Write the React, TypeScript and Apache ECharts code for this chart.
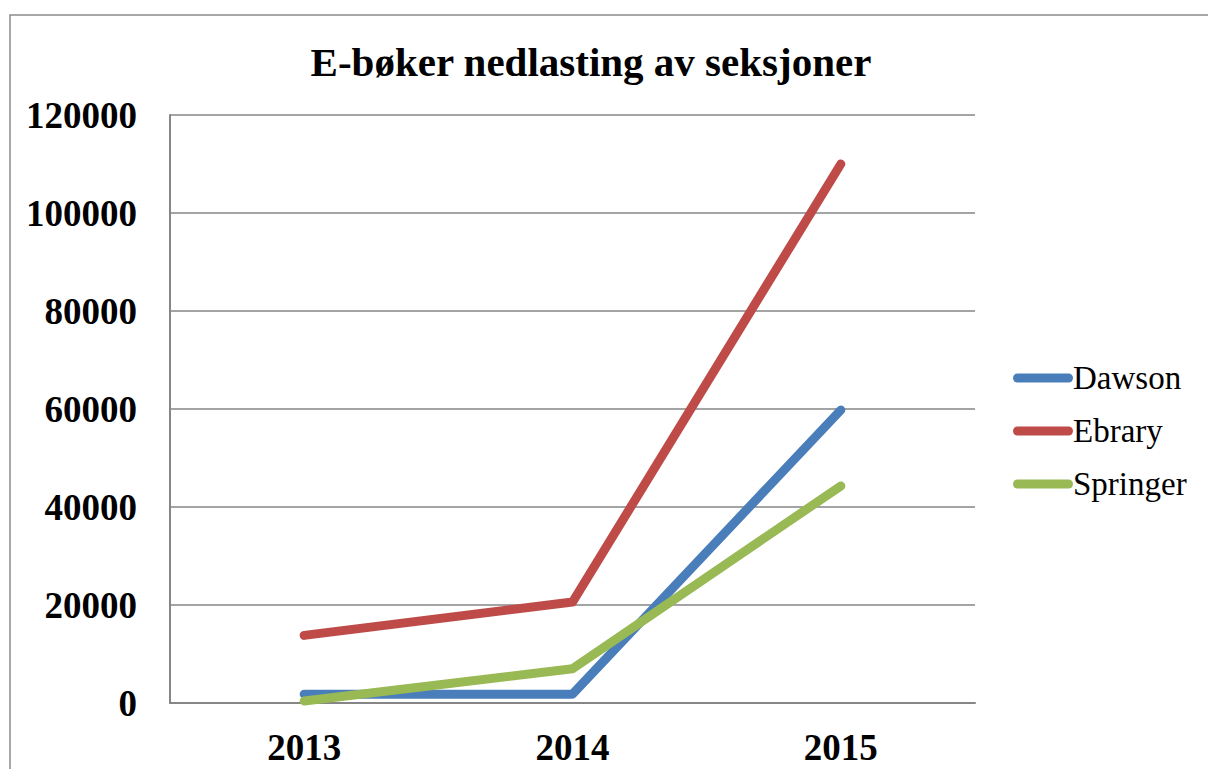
import React, { useEffect, useRef } from "react";
import * as echarts from "echarts";

const categories = ["2013", "2014", "2015"];
const dawson = [1800, 1800, 59800];
const ebrary = [13800, 20600, 110000];
const springer = [400, 7000, 44300];
const seriesNames = ["Dawson", "Ebrary", "Springer"];
const colors = ["#4A7EBB", "#BE4B48", "#98B954"];

export default function App() {
  const ref = useRef<HTMLDivElement>(null);
  useEffect(() => {
    if (!ref.current) return;
    const chart = echarts.init(ref.current, null, { renderer: "svg" });
    const data = [dawson, ebrary, springer];
    chart.setOption({
      animation: false,
      backgroundColor: "#ffffff",
      title: {
        text: "E-bøker nedlasting av seksjoner",
        left: 586,
        textAlign: "center",
        top: 36,
        textStyle: {
          fontFamily: "Liberation Serif",
          fontWeight: "bold",
          fontSize: 41,
          color: "#000",
        },
      },
      graphic: [
        {
          type: "rect",
          shape: { x: 10, y: 15, width: 1300, height: 900 },
          style: { fill: "none", stroke: "#8c8c8c", lineWidth: 1.5 },
          silent: true,
        },
      ],
      legend: {
        orient: "vertical",
        left: 1013,
        top: 360,
        padding: 0,
        itemWidth: 60,
        itemHeight: 9,
        itemGap: 17,
        icon: "path://M4.5,0 H55.5 A4.5,4.5 0 0 1 55.5,9 H4.5 A4.5,4.5 0 0 1 4.5,0 Z",
        data: seriesNames,
        textStyle: {
          fontFamily: "Liberation Serif",
          fontSize: 33,
          color: "#000",
          padding: [0, 0, 0, -5],
          lineHeight: 36,
        },
      },
      grid: { left: 170, top: 115, right: 233, bottom: 66, containLabel: false },
      xAxis: {
        type: "category",
        data: categories,
        boundaryGap: true,
        axisLine: { show: true, lineStyle: { color: "#868686", width: 2 } },
        axisTick: { show: false },
        axisLabel: {
          margin: 26,
          fontFamily: "Liberation Serif",
          fontWeight: "bold",
          fontSize: 37,
          color: "#000",
        },
      },
      yAxis: {
        type: "value",
        min: 0,
        max: 120000,
        interval: 20000,
        axisLine: { show: true, lineStyle: { color: "#868686", width: 2 } },
        axisTick: { show: false },
        splitLine: { show: true, lineStyle: { color: "#868686", width: 1.5 } },
        axisLabel: {
          margin: 33,
          formatter: (v: number) => String(v),
          fontFamily: "Liberation Serif",
          fontWeight: "bold",
          fontSize: 37,
          color: "#000",
        },
      },
      series: seriesNames.map((name, i) => ({
        name,
        type: "line",
        data: data[i],
        symbol: "none",
        color: colors[i],
        lineStyle: { width: 9, color: colors[i], cap: "round", join: "round" },
      })),
    });
    return () => chart.dispose();
  }, []);
  return (
    <div
      ref={ref}
      style={{ position: "fixed", left: 0, top: 0, width: 1208, height: 769 }}
    />
  );
}
